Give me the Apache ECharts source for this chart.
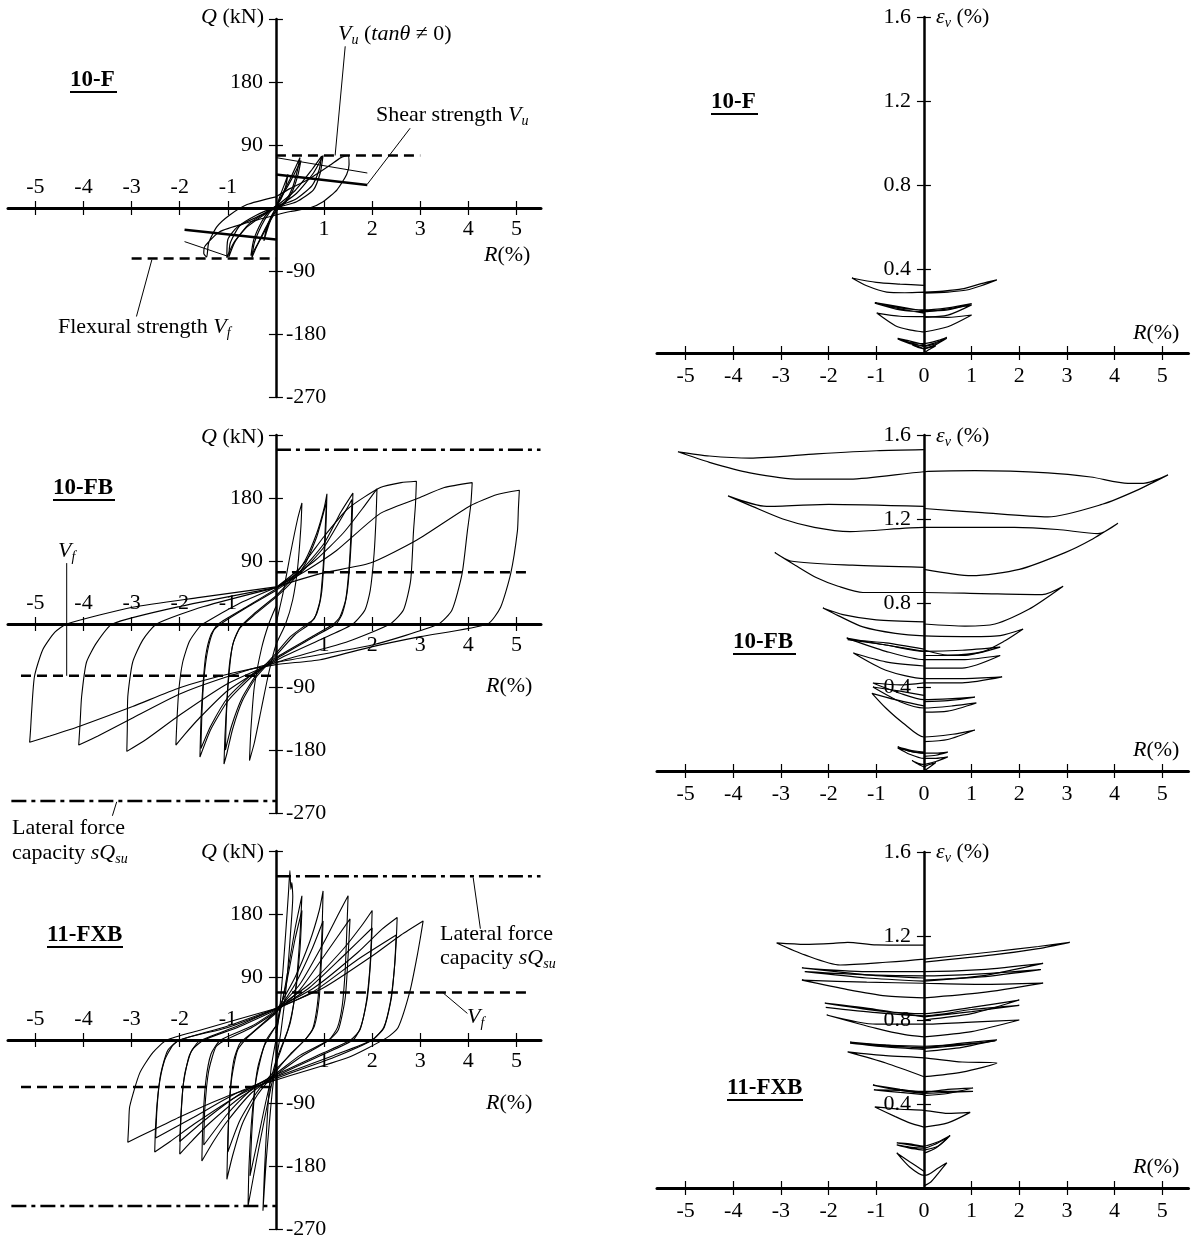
<!DOCTYPE html>
<html><head><meta charset="utf-8"><title>Hysteresis and axial strain</title>
<script src="https://cdn.jsdelivr.net/npm/echarts@6.0.0/dist/echarts.min.js"></script>
<style>html,body{margin:0;padding:0;background:#fff;}#chart{width:1194px;height:1239px;}</style>
</head><body><div id="chart"></div>
<script>
// ---------- tick / label values ----------
const rTicks = [-5,-4,-3,-2,-1,1,2,3,4,5];
const rLabelsNeg = [-5,-4,-3,-2,-1];
const rLabelsPos = [1,2,3,4,5];
const rLabelsAll = [-5,-4,-3,-2,-1,0,1,2,3,4,5];
const qTicks = [-270,-180,-90,90,180,270];
const qLabelsPos = [90,180];
const qLabelsNeg = [-270,-180,-90];
const eTicks = [0.4,0.8,1.2,1.6];

// ---------- 10-F : Q-R loops ----------
const loops10F = [
  [[0,0],[0.1,20],[0.2,38],[0.25,48],[0.2,30],[0.1,12],[0,2],[-0.1,-15],[-0.2,-35],[-0.25,-47],[-0.2,-30],[-0.1,-12],[0,0]],
  [[0,0],[0.15,22],[0.3,42],[0.42,60],[0.5,72],[0.45,55],[0.35,30],[0.2,10],[0,-3],[-0.15,-20],[-0.3,-40],[-0.42,-58],[-0.5,-71],[-0.45,-50],[-0.3,-25],[-0.15,-8],[0,3]],
  [[0,3],[0.15,20],[0.3,38],[0.45,58],[0.52,68],[0.46,48],[0.35,25],[0.2,8],[0,-5],[-0.15,-22],[-0.3,-42],[-0.45,-60],[-0.52,-68],[-0.46,-45],[-0.3,-20],[-0.15,-5],[0,3]],
  [[0,0],[0.43,21],[0.78,50],[0.98,75],[0.92,50],[0.78,26],[0.43,9],[0,0],[-0.4,-13],[-0.8,-27],[-1.0,-45],[-1.02,-71],[-0.88,-50],[-0.6,-27],[-0.19,-7],[0,0]],
  [[0,2],[0.4,25],[0.75,55],[0.95,74],[0.9,55],[0.75,32],[0.4,12],[0,2],[-0.4,-10],[-0.75,-25],[-0.95,-50],[-0.98,-70],[-0.85,-48],[-0.55,-22],[-0.15,-4],[0,2]],
  [[0,16],[0.3,28],[0.65,40],[1.12,61],[1.35,72],[1.5,75],[1.52,62],[1.47,48],[1.27,26],[0.98,9],[0.7,0],[0.3,-5],[0,-10],[-0.6,-21],[-1.17,-34],[-1.48,-55],[-1.5,-65],[-1.44,-70],[-1.4,-50],[-1.23,-27],[-0.96,-10],[-0.6,5],[0,16]]
];
const vfPos10F = [[0,75],[3,75]];
const vfNeg10F = [[-3,-72],[0,-72]];
const vuThickPos10F = [[0,48],[1.9,33]];
const vuThickNeg10F = [[-1.9,-31],[0,-45]];
const vuThinPos10F = [[0,72],[1.9,50]];
const vuThinNeg10F = [[-1.9,-48],[-1.0,-69]];
const leadVuTan10F = [[1.44,231],[1.23,75]];
const leadShear10F = [[2.79,114],[1.9,34]];
const leadFlex10F = [[-2.58,-74],[-2.9,-155]];

// ---------- 10-FB : Q-R loops ----------
const loops10FB = [
  [[0,0],[0.15,45],[0.3,100],[0.45,150],[0.54,173],[0.52,140],[0.45,80],[0.35,35],[0.2,0],[0,-30],[-0.15,-70],[-0.3,-120],[-0.45,-170],[-0.55,-195],[-0.52,-150],[-0.45,-90],[-0.3,-35],[-0.15,0],[0,25]],
  [[0,40],[0.3,62],[0.6,90],[0.85,130],[1.0,165],[1.06,186],[1.04,140],[1.0,90],[0.95,45],[0.85,15],[0.7,0],[0.4,-15],[0,-45],[-0.4,-75],[-0.7,-110],[-0.9,-150],[-1.02,-185],[-1.08,-200],[-1.06,-160],[-1.02,-110],[-0.97,-60],[-0.88,-25],[-0.75,-5],[-0.5,12],[0,40]],
  [[0,38],[0.3,58],[0.6,85],[0.85,125],[1.05,175],[1.02,130],[0.98,80],[0.92,35],[0.8,8],[0.65,0],[0.3,-18],[0,-42],[-0.4,-72],[-0.7,-105],[-0.92,-145],[-1.05,-180],[-1.03,-130],[-0.98,-75],[-0.9,-30],[-0.75,-6],[-0.5,10],[0,38]],
  [[0,50],[0.5,75],[1.0,115],[1.35,160],[1.6,187],[1.58,140],[1.54,90],[1.48,45],[1.38,15],[1.25,0],[0.8,-18],[0,-50],[-0.5,-75],[-1.0,-110],[-1.35,-150],[-1.58,-190],[-1.56,-140],[-1.52,-90],[-1.46,-45],[-1.35,-15],[-1.2,0],[-0.6,25],[0,50]],
  [[0,48],[0.5,72],[1.0,110],[1.35,150],[1.58,178],[1.56,130],[1.52,80],[1.45,35],[1.33,10],[1.2,0],[0.8,-16],[0,-48],[-0.5,-72],[-1.0,-105],[-1.35,-145],[-1.56,-178],[-1.54,-130],[-1.5,-80],[-1.42,-38],[-1.3,-10],[-1.15,0],[-0.6,24],[0,48]],
  [[0,52],[0.8,90],[1.4,130],[1.8,165],[2.1,193],[2.08,150],[2.04,100],[1.96,48],[1.85,20],[1.6,0],[1.0,-20],[0,-52],[-1.0,-95],[-1.6,-135],[-1.9,-158],[-2.08,-173],[-2.06,-140],[-2.02,-95],[-1.94,-55],[-1.8,-25],[-1.6,-5],[-1.52,0],[-0.8,28],[0,52]],
  [[0,52],[0.5,80],[1.0,125],[1.5,165],[2.17,195],[2.6,202],[2.92,204],[2.9,170],[2.86,133],[2.8,62],[2.65,20],[2.37,0],[1.5,-25],[0,-55],[-1.0,-85],[-2.0,-130],[-2.7,-165],[-3.1,-182],[-3.09,-150],[-3.08,-104],[-2.98,-55],[-2.77,-23],[-2.48,0],[-1.5,25],[0,52]],
  [[0,52],[0.6,75],[1.26,105],[2.17,158],[2.93,179],[3.5,195],[4.08,202],[4.05,170],[3.98,133],[3.87,72],[3.66,20],[3.38,0],[2.0,-30],[0,-55],[-1.0,-75],[-2.0,-100],[-3.0,-135],[-3.7,-160],[-4.1,-173],[-4.07,-140],[-4.04,-104],[-3.94,-55],[-3.73,-27],[-3.4,0],[-2.0,25],[0,52]],
  [[0,53],[0.92,72],[1.96,87],[2.93,120],[4.04,169],[4.6,185],[5.06,191],[5.04,165],[5.02,133],[4.88,72],[4.67,24],[4.4,0],[3.0,-18],[1.96,-33],[0.92,-51],[0,-58],[-0.9,-70],[-2.0,-91],[-2.98,-118],[-4.08,-146],[-4.7,-160],[-5.12,-169],[-5.1,-150],[-5.08,-126],[-5.02,-75],[-4.85,-37],[-4.6,-12],[-4.35,0],[-2.98,24],[-1.58,38],[0,53]]
];
const sqPos10FB = [[0,249],[5.5,249]];
const sqNeg10FB = [[-5.5,-253],[0,-253]];
const vfPos10FB = [[0,74],[5.3,74]];
const vfNeg10FB = [[-5.3,-74],[0,-74]];
const leadVf10FB = [[-4.35,87],[-4.35,-74]];
const leadSq10FB = [[-3.31,-254],[-3.4,-274]];

// ---------- 11-FXB : Q-R loops ----------
const loops11FXB = [
  [[0,0],[0.1,60],[0.2,150],[0.26,210],[0.29,242],[0.31,215],[0.33,225],[0.35,205],[0.3,150],[0.22,80],[0.1,10],[0,-30],[-0.1,-90],[-0.2,-170],[-0.27,-244],[-0.24,-190],[-0.18,-110],[-0.1,-40],[0,0]],
  [[0,10],[0.2,80],[0.4,160],[0.54,206],[0.5,150],[0.42,80],[0.3,25],[0.1,-15],[0,-35],[-0.2,-100],[-0.4,-170],[-0.52,-215],[-0.58,-237],[-0.56,-180],[-0.5,-110],[-0.38,-40],[-0.2,0],[0,20]],
  [[0,20],[0.2,75],[0.4,145],[0.54,185],[0.5,130],[0.4,65],[0.25,15],[0,-30],[-0.2,-85],[-0.4,-150],[-0.54,-194],[-0.5,-130],[-0.42,-60],[-0.25,-10],[0,20]],
  [[0,40],[0.4,90],[0.7,140],[0.9,185],[0.98,213],[0.96,160],[0.92,100],[0.86,50],[0.76,15],[0.6,0],[0.3,-20],[0,-45],[-0.4,-80],[-0.7,-120],[-0.9,-165],[-1.02,-199],[-1.0,-140],[-0.96,-80],[-0.88,-30],[-0.75,-5],[-0.5,10],[0,40]],
  [[0,38],[0.4,80],[0.75,130],[0.98,170],[0.95,120],[0.9,60],[0.8,20],[0.6,0],[0,-42],[-0.4,-75],[-0.75,-115],[-1.0,-160],[-0.98,-110],[-0.92,-55],[-0.8,-15],[-0.6,3],[0,38]],
  [[0,42],[0.5,80],[1.0,140],[1.3,180],[1.5,206],[1.47,150],[1.44,100],[1.38,50],[1.28,18],[1.1,0],[0.5,-25],[0,-50],[-0.5,-75],[-1.0,-115],[-1.3,-145],[-1.54,-173],[-1.52,-120],[-1.46,-60],[-1.35,-20],[-1.15,0],[-0.5,20],[0,42]],
  [[0,40],[0.5,72],[1.0,120],[1.54,173],[1.5,120],[1.44,60],[1.3,15],[1.1,0],[0.5,-22],[0,-48],[-0.5,-70],[-1.0,-105],[-1.5,-150],[-1.48,-100],[-1.4,-45],[-1.25,-10],[-1.05,0],[-0.5,18],[0,40]],
  [[0,45],[0.7,80],[1.4,130],[1.8,165],[2.0,185],[1.98,140],[1.95,100],[1.88,55],[1.76,18],[1.6,0],[1.0,-20],[0,-52],[-0.7,-80],[-1.4,-120],[-1.8,-148],[-2.0,-163],[-1.98,-120],[-1.93,-65],[-1.8,-22],[-1.6,-2],[-0.8,20],[0,45]],
  [[0,43],[0.7,75],[1.4,120],[2.0,160],[1.97,115],[1.9,60],[1.75,15],[1.55,0],[1.0,-18],[0,-50],[-0.7,-75],[-1.4,-110],[-2.0,-145],[-1.97,-100],[-1.9,-50],[-1.75,-15],[-1.5,0],[-0.8,18],[0,43]],
  [[0,45],[0.8,75],[1.7,125],[2.2,158],[2.52,175],[2.5,140],[2.46,100],[2.38,55],[2.24,18],[2.0,0],[1.2,-25],[0,-55],[-0.8,-80],[-1.7,-120],[-2.2,-145],[-2.52,-160],[-2.5,-120],[-2.44,-70],[-2.32,-30],[-2.15,-8],[-2.0,0],[-1.0,20],[0,45]],
  [[0,44],[0.8,70],[1.7,115],[2.5,150],[2.47,110],[2.4,60],[2.25,18],[2.0,0],[1.2,-22],[0,-53],[-0.8,-75],[-1.7,-110],[-2.5,-140],[-2.47,-95],[-2.4,-50],[-2.25,-15],[-2.0,0],[-1.0,18],[0,44]],
  [[0,45],[1.0,75],[2.0,120],[2.6,150],[3.06,170],[3.0,145],[2.93,118],[2.79,71],[2.54,18],[2.3,3],[1.5,-25],[0,-57],[-1.0,-80],[-2.0,-110],[-2.6,-130],[-3.08,-146],[-3.06,-120],[-3.04,-95],[-2.83,-47],[-2.56,-18],[-2.27,0],[-1.58,14],[0,45]]
];
const sqPos11FXB = [[0,234],[5.5,234]];
const sqNeg11FXB = [[-5.5,-237],[0,-237]];
const vfPos11FXB = [[0,68],[5.3,68]];
const vfNeg11FXB = [[-5.3,-67],[0,-67]];
const leadSq11FXB = [[4.1,232],[4.25,159]];
const leadVf11FXB = [[3.48,67],[3.98,38]];

// ---------- axial strain curves (R %, eps_v %) ----------
const strain10F = [
  [[0,0],[0.1,0.015],[0.25,0.035],[0.1,0.025],[0,0.02],[-0.1,0.025],[-0.25,0.04],[-0.1,0.03],[0,0.02]],
  [[0,0.02],[0.25,0.04],[0.48,0.07],[0.25,0.05],[0,0.035],[-0.3,0.045],[-0.55,0.067],[-0.3,0.05],[0,0.03]],
  [[0,0.03],[0.25,0.045],[0.48,0.075],[0.3,0.06],[0,0.045],[-0.3,0.05],[-0.55,0.07],[-0.35,0.06],[0,0.04]],
  [[0,0.1],[0.5,0.125],[1.0,0.181],[0.5,0.17],[0,0.173],[-0.5,0.175],[-0.99,0.19],[-0.6,0.13],[-0.3,0.11],[0,0.1]],
  [[0,0.17],[0.5,0.18],[1.0,0.229],[0.5,0.21],[0,0.197],[-0.5,0.205],[-1.03,0.237],[-0.5,0.21],[0,0.19]],
  [[0,0.2],[0.5,0.205],[1.0,0.235],[0.5,0.215],[0,0.205],[-0.5,0.215],[-1.03,0.24],[-0.5,0.22],[0,0.2]],
  [[0,0.285],[0.5,0.29],[0.9,0.3],[1.2,0.32],[1.53,0.348],[1.2,0.33],[0.8,0.305],[0.4,0.295],[0,0.29],[-0.4,0.287],[-0.78,0.29],[-1.2,0.32],[-1.51,0.357],[-1.0,0.336],[-0.5,0.328],[0,0.322]]
];
const strain10FB = [
  [[0,0],[0.1,0.015],[0.25,0.04],[0.1,0.03],[0,0.02],[-0.1,0.03],[-0.25,0.05],[-0.1,0.035],[0,0.03]],
  [[0,0.03],[0.25,0.045],[0.5,0.067],[0.25,0.06],[0,0.06],[-0.3,0.08],[-0.55,0.11],[-0.3,0.095],[0,0.085]],
  [[0,0.07],[0.25,0.075],[0.5,0.09],[0.25,0.085],[0,0.085],[-0.3,0.095],[-0.55,0.115],[-0.3,0.1],[0,0.09]],
  [[0,0.14],[0.5,0.15],[1.07,0.195],[0.6,0.175],[0,0.162],[-0.44,0.229],[-0.8,0.3],[-1.09,0.37],[-0.6,0.34],[0,0.31]],
  [[0,0.28],[0.5,0.285],[1.1,0.324],[0.6,0.31],[0,0.3],[-0.5,0.33],[-1.07,0.4],[-0.5,0.38],[0,0.36]],
  [[0,0.33],[0.5,0.335],[1.07,0.352],[0.6,0.345],[0,0.34],[-0.5,0.37],[-1.07,0.419],[-0.5,0.41],[0,0.42]],
  [[0,0.42],[0.8,0.42],[1.64,0.448],[0.8,0.44],[0,0.44],[-0.8,0.48],[-1.48,0.562],[-0.8,0.52],[0,0.5]],
  [[0,0.49],[0.8,0.49],[1.6,0.55],[0.8,0.53],[0,0.53],[-0.8,0.57],[-1.62,0.633],[-0.8,0.6],[0,0.57]],
  [[0,0.55],[0.8,0.55],[1.6,0.59],[0.8,0.575],[0,0.57],[-0.8,0.6],[-1.6,0.625],[-0.8,0.61],[0,0.58]],
  [[0,0.576],[0.5,0.552],[1.22,0.567],[1.7,0.62],[2.08,0.676],[1.6,0.645],[0.8,0.64],[0,0.643],[-0.6,0.655],[-1.28,0.686],[-1.8,0.74],[-2.12,0.776],[-1.7,0.745],[-1.0,0.72],[0,0.71]],
  [[0,0.7],[0.86,0.69],[1.49,0.7],[2.2,0.77],[2.92,0.88],[2.48,0.84],[1.2,0.845],[0,0.85],[-1.28,0.85],[-1.8,0.88],[-2.25,0.92],[-2.7,0.98],[-3.13,1.04],[-2.8,1.0],[-1.5,0.98],[0,0.97]],
  [[0,0.96],[1.0,0.93],[2.0,0.96],[2.96,1.04],[3.5,1.1],[4.07,1.18],[3.65,1.13],[2.8,1.15],[1.9,1.16],[0,1.16],[-1.55,1.14],[-2.3,1.16],[-2.96,1.2],[-3.6,1.26],[-4.11,1.31],[-3.3,1.26],[-2.0,1.27],[0,1.26]],
  [[0,1.25],[1.22,1.23],[2.6,1.21],[3.74,1.27],[4.5,1.34],[5.12,1.41],[4.6,1.37],[4.28,1.37],[3.5,1.4],[2.6,1.42],[1.07,1.43],[0,1.425],[-1.55,1.39],[-2.6,1.39],[-3.65,1.42],[-4.5,1.47],[-5.16,1.52],[-4.5,1.5],[-3.65,1.49],[-2.25,1.51],[-1.0,1.525],[0,1.53]]
];
const strain11FXB = [
  [[0,0.01],[0.15,0.03],[0.3,0.07],[0.48,0.12],[0.3,0.095],[0.1,0.065],[0,0.06],[-0.3,0.1],[-0.57,0.167],[-0.3,0.125],[0,0.08]],
  [[0,0.165],[0.25,0.19],[0.5,0.24],[0.25,0.21],[0,0.19],[-0.3,0.195],[-0.57,0.205],[-0.3,0.19],[0,0.18]],
  [[0,0.18],[0.3,0.2],[0.55,0.25],[0.3,0.22],[0,0.2],[-0.3,0.21],[-0.57,0.215],[-0.3,0.205],[0,0.195]],
  [[0,0.29],[0.5,0.31],[0.97,0.36],[0.5,0.355],[0,0.37],[-0.5,0.375],[-1.03,0.386],[-0.6,0.34],[-0.3,0.31],[0,0.29]],
  [[0,0.44],[0.5,0.45],[1.03,0.476],[0.5,0.47],[0,0.455],[-0.5,0.47],[-1.07,0.49],[-0.5,0.465],[0,0.45]],
  [[0,0.45],[0.5,0.455],[1.03,0.46],[0.5,0.46],[0,0.46],[-0.5,0.465],[-1.05,0.467],[-0.5,0.455],[0,0.445]],
  [[0,0.53],[0.8,0.552],[1.53,0.595],[0.8,0.6],[0,0.62],[-0.8,0.63],[-1.6,0.648],[-0.8,0.595],[0,0.53]],
  [[0,0.65],[0.8,0.67],[1.53,0.705],[0.8,0.69],[0,0.67],[-0.8,0.675],[-1.55,0.695],[-0.8,0.68],[0,0.665]],
  [[0,0.665],[0.8,0.68],[1.5,0.7],[0.8,0.685],[0,0.675],[-0.8,0.68],[-1.55,0.69],[-0.8,0.672],[0,0.66]],
  [[0,0.72],[1.0,0.745],[2.0,0.8],[1.0,0.79],[0,0.78],[-1.0,0.78],[-2.04,0.824],[-1.0,0.76],[-0.4,0.73],[0,0.72]],
  [[0,0.8],[1.0,0.83],[2.0,0.895],[1.0,0.86],[0,0.83],[-1.0,0.845],[-2.08,0.88],[-1.0,0.85],[0,0.815]],
  [[0,0.815],[1.0,0.84],[2.0,0.87],[1.0,0.85],[0,0.82],[-1.0,0.835],[-2.06,0.86],[-1.0,0.835],[0,0.82]],
  [[0,0.905],[1.2,0.93],[2.5,0.976],[1.2,0.97],[0,0.975],[-1.2,0.98],[-2.56,0.99],[-1.6,0.945],[-0.8,0.915],[0,0.905]],
  [[0,0.985],[1.2,1.01],[2.5,1.07],[1.2,1.04],[0,1.03],[-1.2,1.03],[-2.56,1.048],[-1.2,1.015],[0,1.0]],
  [[0,0.99],[1.2,1.005],[2.45,1.04],[1.2,1.02],[0,1.01],[-1.2,1.015],[-2.5,1.03],[-1.2,1.0],[0,0.985]],
  [[0,1.076],[1.45,1.11],[2.4,1.14],[3.06,1.17],[2.4,1.15],[1.45,1.125],[0,1.09],[-0.8,1.075],[-1.76,1.062],[-2.5,1.11],[-3.09,1.167],[-2.5,1.16],[-1.9,1.165],[-1.6,1.17],[-1.0,1.158],[0,1.157]]
];

// ---------- layout ----------
const FONT = '"Liberation Serif","Times New Roman",Times,serif';
const LEFT_TOPS = [19, 435, 851];
const RIGHT_TOPS = [17, 435, 852];
const L_BOX = {left: 8, width: 533, height: 378, xmin: -5.57, xmax: 5.51, ymin: -270, ymax: 270};
const R_BOX = {left: 657, width: 531.5, height: 336, xmin: -5.6, xmax: 5.55, ymin: 0, ymax: 1.6};
const grids = [];
LEFT_TOPS.forEach(t => grids.push({left: L_BOX.left, top: t, width: L_BOX.width, height: L_BOX.height, outerBoundsMode: 'none', containLabel: false}));
RIGHT_TOPS.forEach(t => grids.push({left: R_BOX.left, top: t, width: R_BOX.width, height: R_BOX.height, outerBoundsMode: 'none', containLabel: false}));

const lblStyle = {color: '#000', fontSize: 22, fontFamily: FONT, formatter: v => String(Math.round(v * 10) / 10)};
const tickStyle = {color: '#000', width: 1.2};
const xAxes = [], yAxes = [];
grids.forEach((g, gi) => {
  const left = gi < 3;
  const box = left ? L_BOX : R_BOX;
  // shift the axes (line, ticks and labels together) onto the zero lines
  const yShift = -(box.height * (0 - box.ymin) / (box.ymax - box.ymin));
  const xShift = -(box.width * (0 - box.xmin) / (box.xmax - box.xmin));
  const xb = {gridIndex: gi, type: 'value', min: box.xmin, max: box.xmax, position: 'bottom', offset: yShift, splitLine: {show: false}};
  xAxes.push(Object.assign({}, xb, {
    axisLine: {show: true, onZero: false, lineStyle: {color: '#000', width: 3}},
    axisTick: {show: true, customValues: rTicks, length: 7, inside: false, lineStyle: tickStyle},
    axisLabel: Object.assign({show: true, customValues: left ? rLabelsPos : rLabelsAll, margin: left ? 10 : 12}, lblStyle)
  }));
  xAxes.push(Object.assign({}, xb, {
    axisLine: {show: false, onZero: false},
    axisTick: {show: true, customValues: rTicks, length: 7, inside: true, lineStyle: tickStyle},
    axisLabel: Object.assign({show: left, inside: true, customValues: rLabelsNeg, margin: 10}, lblStyle)
  }));
  const yb = {gridIndex: gi, type: 'value', min: box.ymin, max: box.ymax, position: 'left', offset: xShift, splitLine: {show: false}};
  yAxes.push(Object.assign({}, yb, {
    axisLine: {show: true, onZero: false, lineStyle: {color: '#000', width: 2.5}},
    axisTick: {show: true, customValues: left ? qTicks : eTicks, length: 7, inside: false, lineStyle: tickStyle},
    axisLabel: Object.assign({show: true, customValues: left ? qLabelsPos : eTicks, margin: 13}, lblStyle)
  }));
  yAxes.push(Object.assign({}, yb, {
    axisLine: {show: false, onZero: false},
    axisTick: {show: true, customValues: left ? qTicks : eTicks, length: 7, inside: true, lineStyle: tickStyle},
    axisLabel: Object.assign({show: left, inside: true, customValues: qLabelsNeg, margin: 10}, lblStyle)
  }));
});

// ---------- series ----------
const series = [];
function curve(data, gi, w, sm) {
  series.push({type: 'line', xAxisIndex: 2 * gi, yAxisIndex: 2 * gi, data: data, showSymbol: false, symbol: 'none',
    smooth: sm, silent: true, animation: false, clip: true, lineStyle: {color: '#000', width: w}, z: 3});
}
function straight(data, gi, w, type) {
  series.push({type: 'line', xAxisIndex: 2 * gi, yAxisIndex: 2 * gi, data: data, showSymbol: false, symbol: 'none',
    silent: true, animation: false, clip: false, lineStyle: {color: '#000', width: w, type: type || 'solid'}, z: 4});
}
const DASH = [10, 6];
const DASHDOT = [15, 5, 4, 5];
loops10F.forEach(d => curve(d, 0, 1.2, 0.2));
loops10FB.forEach(d => curve(d, 1, 1.1, 0.2));
loops11FXB.forEach(d => curve(d, 2, 1.1, 0.2));
strain10F.forEach(d => curve(d, 3, 1.2, 0.25));
strain10FB.forEach(d => curve(d, 4, 1.2, 0.25));
strain11FXB.forEach(d => curve(d, 5, 1.2, 0.25));

straight(vfPos10F, 0, 2.5, DASH); straight(vfNeg10F, 0, 2.5, DASH);
straight(vuThickPos10F, 0, 2.5); straight(vuThickNeg10F, 0, 2.5);
straight(vuThinPos10F, 0, 1); straight(vuThinNeg10F, 0, 1);
straight(leadVuTan10F, 0, 1); straight(leadShear10F, 0, 1); straight(leadFlex10F, 0, 1);

straight(sqPos10FB, 1, 2.5, DASHDOT); straight(sqNeg10FB, 1, 2.5, DASHDOT);
straight(vfPos10FB, 1, 2.5, DASH); straight(vfNeg10FB, 1, 2.5, DASH);
straight(leadVf10FB, 1, 1); straight(leadSq10FB, 1, 1);

straight(sqPos11FXB, 2, 2.5, DASHDOT); straight(sqNeg11FXB, 2, 2.5, DASHDOT);
straight(vfPos11FXB, 2, 2.5, DASH); straight(vfNeg11FXB, 2, 2.5, DASH);
straight(leadSq11FXB, 2, 1); straight(leadVf11FXB, 2, 1);

// ---------- text annotations ----------
const RICH = {
  n: {fontFamily: FONT, fontSize: 22, fill: '#000', lineHeight: 26},
  i: {fontFamily: FONT, fontSize: 22, fontStyle: 'italic', fill: '#000', lineHeight: 26},
  s: {fontFamily: FONT, fontSize: 14, fontStyle: 'italic', fill: '#000', lineHeight: 16, verticalAlign: 'bottom'}
};
const graphic = [];
function T(x, y, text, align) {
  graphic.push({type: 'text', x: x, y: y, silent: true, z: 10,
    style: {text: text, rich: RICH, fill: '#000', align: align || 'left', verticalAlign: 'middle', fontFamily: FONT, fontSize: 22}});
}
function B(x, y, text, w) {
  graphic.push({type: 'text', x: x, y: y, silent: true, z: 10,
    style: {text: text, fill: '#000', font: 'bold 23px ' + FONT, align: 'left', verticalAlign: 'middle'}});
  graphic.push({type: 'rect', silent: true, z: 10, shape: {x: x, y: y + 11, width: w, height: 2}, style: {fill: '#000'}});
}
const QLBL = '{i|Q}{n| (kN)}';
const RLBL = '{i|R}{n|(%)}';
const ELBL = '{i|ε}{s|v}{n| (%)}';
// left column
T(264, 17, QLBL, 'right'); T(264, 437, QLBL, 'right'); T(264, 852, QLBL, 'right');
T(484, 255, RLBL); T(486, 686, RLBL); T(486, 1103, RLBL);
B(70, 80, '10-F', 47); B(53, 488, '10-FB', 62); B(47, 935, '11-FXB', 76);
T(338, 34, '{i|V}{s|u}{n| (}{i|tanθ}{n| ≠ 0)}');
T(376, 115, '{n|Shear strength }{i|V}{s|u}');
T(58, 327, '{n|Flexural strength }{i|V}{s|f}');
T(58, 551, '{i|V}{s|f}');
T(12, 828, '{n|Lateral force}');
T(12, 853, '{n|capacity }{i|sQ}{s|su}');
T(440, 934, '{n|Lateral force}');
T(440, 958, '{n|capacity }{i|sQ}{s|su}');
T(467, 1017, '{i|V}{s|f}');
// right column
T(936, 17, ELBL); T(936, 436, ELBL); T(936, 852, ELBL);
T(1133, 333, RLBL); T(1133, 750, RLBL); T(1133, 1167, RLBL);
B(711, 102, '10-F', 47); B(733, 642, '10-FB', 63); B(727, 1088, '11-FXB', 76);

const chart = echarts.init(document.getElementById('chart'), null, {renderer: 'canvas'});
chart.setOption({
  animation: false,
  backgroundColor: '#fff',
  grid: grids,
  xAxis: xAxes,
  yAxis: yAxes,
  series: series,
  graphic: graphic
});
</script></body></html>
